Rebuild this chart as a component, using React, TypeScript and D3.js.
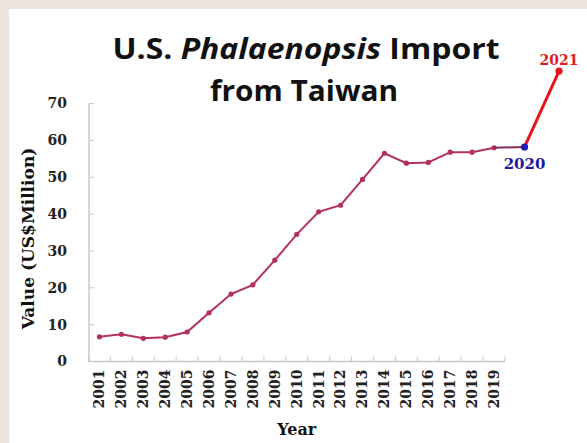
import React from "react";
import * as d3 from "d3";

const years = [2001, 2002, 2003, 2004, 2005, 2006, 2007, 2008, 2009, 2010, 2011, 2012, 2013, 2014, 2015, 2016, 2017, 2018, 2019];
const values = [6.7, 7.4, 6.3, 6.6, 8.0, 13.2, 18.3, 20.8, 27.5, 34.5, 40.6, 42.4, 49.4, 56.5, 53.8, 54.0, 56.8, 56.8, 58.0];
const extYears = [2019, 2020, 2021];
const extValues = [58.0, 58.2, 78.8];
const yTicks = [0, 10, 20, 30, 40, 50, 60, 70];

const W = 587;
const H = 443;
const serif = "'DejaVu Serif', serif";

export default function App() {
  const x = d3.scaleBand<number>().domain(years).range([88.5, 505]).padding(0);
  const cx = (yr: number) => (x(yr) as number) + x.bandwidth() / 2;
  const y = d3.scaleLinear().domain([0, 70]).range([361.5, 103.5]);
  const xExt = d3
    .scaleLinear()
    .domain(extYears)
    .range([cx(2019), cx(2019) + 30.5, cx(2019) + 65]);

  const line = d3
    .line<number>()
    .x((_, i) => cx(years[i]))
    .y((v) => y(v));

  const boundaries = years.map((yr) => x(yr) as number).concat([x.range()[1]]);

  const main = "#b3305f";
  return (
    <svg
      width={W}
      height={H}
      style={{ position: "fixed", left: 0, top: 0, display: "block" }}
    >
      <rect x={0} y={0} width={W} height={H} fill="#ece5de" />
      <rect x={9} y={9} width={W - 9} height={H - 9} fill="#ffffff" />

      {/* Title */}
      <g fontFamily="'Open Sans', sans-serif" fontWeight={700} fontSize={29} fill="#111" textAnchor="middle">
        <text x={306} y={59} textLength={387} lengthAdjust="spacingAndGlyphs">
          U.S. <tspan fontStyle="italic">Phalaenopsis</tspan> Import
        </text>
        <text x={304} y={101} textLength={188} lengthAdjust="spacingAndGlyphs">
          from Taiwan
        </text>
      </g>

      {/* Y axis */}
      <line x1={89} x2={89} y1={y(70)} y2={y(0)} stroke="#c8c8c8" strokeWidth={1.5} />
      {yTicks.map((t) => (
        <g key={t}>
          <line x1={89} x2={94} y1={y(t)} y2={y(t)} stroke="#c8c8c8" strokeWidth={1} />
          <text
            x={67}
            y={y(t)}
            dy="0.35em"
            textAnchor="end"
            fontFamily={serif}
            fontWeight={700}
            fontSize={14}
            fill="#222"
          >
            {t}
          </text>
        </g>
      ))}

      {/* X axis */}
      <line x1={x.range()[0]} x2={x.range()[1]} y1={y(0)} y2={y(0)} stroke="#c8c8c8" strokeWidth={1.5} />
      {boundaries.map((b, i) => (
        <line key={i} x1={b} x2={b} y1={y(0)} y2={y(0) - 5} stroke="#c8c8c8" strokeWidth={1} />
      ))}
      {years.map((yr) => (
        <text
          key={yr}
          transform={`translate(${cx(yr)},${y(0) + 8}) rotate(-90)`}
          dy="0.35em"
          textAnchor="end"
          fontFamily={serif}
          fontWeight={700}
          fontSize={14}
          fill="#222"
        >
          {yr}
        </text>
      ))}

      {/* Axis titles */}
      <text
        transform={`translate(28,${(y(0) + y(70)) / 2 + 6}) rotate(-90)`}
        dy="0.35em"
        textAnchor="middle"
        fontFamily={serif}
        fontWeight={700}
        fontSize={17}
        fill="#111"
      >
        Value (US$Million)
      </text>
      <text
        x={(x.range()[0] + x.range()[1]) / 2}
        y={435}
        textAnchor="middle"
        fontFamily={serif}
        fontWeight={700}
        fontSize={16}
        fill="#111"
      >
        Year
      </text>

      {/* Main series */}
      <path d={line(values) || ""} fill="none" stroke={main} strokeWidth={2} />
      {values.map((v, i) => (
        <circle key={i} cx={cx(years[i])} cy={y(v)} r={2.6} fill={main} />
      ))}

      {/* 2019 -> 2020 */}
      <line
        x1={xExt(extYears[0])}
        y1={y(extValues[0])}
        x2={xExt(extYears[1])}
        y2={y(extValues[1])}
        stroke="#8a2a5c"
        strokeWidth={2}
      />
      {/* 2020 -> 2021 */}
      <line
        x1={xExt(extYears[1])}
        y1={y(extValues[1])}
        x2={xExt(extYears[2])}
        y2={y(extValues[2])}
        stroke="#e8141c"
        strokeWidth={3}
      />
      <circle cx={xExt(extYears[1])} cy={y(extValues[1])} r={3.6} fill="#1c1cb4" />
      <circle cx={xExt(extYears[2])} cy={y(extValues[2])} r={3.6} fill="#e8141c" />

      <text
        x={xExt(extYears[1])}
        y={y(extValues[1]) + 22}
        textAnchor="middle"
        fontFamily={serif}
        fontWeight={700}
        fontSize={15}
        fill="#1c1ca0"
      >
        {extYears[1]}
      </text>
      <text
        x={xExt(extYears[2])}
        y={y(extValues[2]) - 6}
        textAnchor="middle"
        fontFamily={serif}
        fontWeight={700}
        fontSize={14}
        fill="#e01a2a"
      >
        {extYears[2]}
      </text>
    </svg>
  );
}
